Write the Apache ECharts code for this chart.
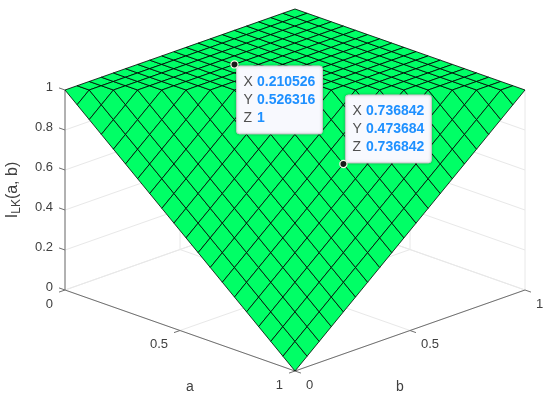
<!DOCTYPE html>
<html>
<head>
<meta charset="utf-8">
<style>
html, body { margin: 0; padding: 0; background: #fff; }
#main { width: 550px; height: 402px; }
</style>
<script src="https://cdn.jsdelivr.net/npm/echarts@6/dist/echarts.min.js"></script>
</head>
<body>
<div id="main"></div>
<script>
// grid of the surface
var aValues = [0, 0.0526, 0.1053, 0.1579, 0.2105, 0.2632, 0.3158, 0.3684, 0.4211, 0.4737, 0.5263, 0.5789, 0.6316, 0.6842, 0.7368, 0.7895, 0.8421, 0.8947, 0.9474, 1]
var bValues = [0, 0.0526, 0.1053, 0.1579, 0.2105, 0.2632, 0.3158, 0.3684, 0.4211, 0.4737, 0.5263, 0.5789, 0.6316, 0.6842, 0.7368, 0.7895, 0.8421, 0.8947, 0.9474, 1]
// one row per a value, one column per b value
var zValues = [
    [1, 1, 1, 1, 1, 1, 1, 1, 1, 1, 1, 1, 1, 1, 1, 1, 1, 1, 1, 1],
    [0.9474, 1, 1, 1, 1, 1, 1, 1, 1, 1, 1, 1, 1, 1, 1, 1, 1, 1, 1, 1],
    [0.8947, 0.9474, 1, 1, 1, 1, 1, 1, 1, 1, 1, 1, 1, 1, 1, 1, 1, 1, 1, 1],
    [0.8421, 0.8947, 0.9474, 1, 1, 1, 1, 1, 1, 1, 1, 1, 1, 1, 1, 1, 1, 1, 1, 1],
    [0.7895, 0.8421, 0.8947, 0.9474, 1, 1, 1, 1, 1, 1, 1, 1, 1, 1, 1, 1, 1, 1, 1, 1],
    [0.7368, 0.7895, 0.8421, 0.8947, 0.9474, 1, 1, 1, 1, 1, 1, 1, 1, 1, 1, 1, 1, 1, 1, 1],
    [0.6842, 0.7368, 0.7895, 0.8421, 0.8947, 0.9474, 1, 1, 1, 1, 1, 1, 1, 1, 1, 1, 1, 1, 1, 1],
    [0.6316, 0.6842, 0.7368, 0.7895, 0.8421, 0.8947, 0.9474, 1, 1, 1, 1, 1, 1, 1, 1, 1, 1, 1, 1, 1],
    [0.5789, 0.6316, 0.6842, 0.7368, 0.7895, 0.8421, 0.8947, 0.9474, 1, 1, 1, 1, 1, 1, 1, 1, 1, 1, 1, 1],
    [0.5263, 0.5789, 0.6316, 0.6842, 0.7368, 0.7895, 0.8421, 0.8947, 0.9474, 1, 1, 1, 1, 1, 1, 1, 1, 1, 1, 1],
    [0.4737, 0.5263, 0.5789, 0.6316, 0.6842, 0.7368, 0.7895, 0.8421, 0.8947, 0.9474, 1, 1, 1, 1, 1, 1, 1, 1, 1, 1],
    [0.4211, 0.4737, 0.5263, 0.5789, 0.6316, 0.6842, 0.7368, 0.7895, 0.8421, 0.8947, 0.9474, 1, 1, 1, 1, 1, 1, 1, 1, 1],
    [0.3684, 0.4211, 0.4737, 0.5263, 0.5789, 0.6316, 0.6842, 0.7368, 0.7895, 0.8421, 0.8947, 0.9474, 1, 1, 1, 1, 1, 1, 1, 1],
    [0.3158, 0.3684, 0.4211, 0.4737, 0.5263, 0.5789, 0.6316, 0.6842, 0.7368, 0.7895, 0.8421, 0.8947, 0.9474, 1, 1, 1, 1, 1, 1, 1],
    [0.2632, 0.3158, 0.3684, 0.4211, 0.4737, 0.5263, 0.5789, 0.6316, 0.6842, 0.7368, 0.7895, 0.8421, 0.8947, 0.9474, 1, 1, 1, 1, 1, 1],
    [0.2105, 0.2632, 0.3158, 0.3684, 0.4211, 0.4737, 0.5263, 0.5789, 0.6316, 0.6842, 0.7368, 0.7895, 0.8421, 0.8947, 0.9474, 1, 1, 1, 1, 1],
    [0.1579, 0.2105, 0.2632, 0.3158, 0.3684, 0.4211, 0.4737, 0.5263, 0.5789, 0.6316, 0.6842, 0.7368, 0.7895, 0.8421, 0.8947, 0.9474, 1, 1, 1, 1],
    [0.1053, 0.1579, 0.2105, 0.2632, 0.3158, 0.3684, 0.4211, 0.4737, 0.5263, 0.5789, 0.6316, 0.6842, 0.7368, 0.7895, 0.8421, 0.8947, 0.9474, 1, 1, 1],
    [0.0526, 0.1053, 0.1579, 0.2105, 0.2632, 0.3158, 0.3684, 0.4211, 0.4737, 0.5263, 0.5789, 0.6316, 0.6842, 0.7368, 0.7895, 0.8421, 0.8947, 0.9474, 1, 1],
    [0, 0.0526, 0.1053, 0.1579, 0.2105, 0.2632, 0.3158, 0.3684, 0.4211, 0.4737, 0.5263, 0.5789, 0.6316, 0.6842, 0.7368, 0.7895, 0.8421, 0.8947, 0.9474, 1]
]
var aTicks = [0, 0.5, 1]
var bTicks = [0, 0.5, 1]
var zTicks = [0, 0.2, 0.4, 0.6, 0.8, 1]
// data tips: a, b, z and the text they show
var tipPoints = [[0.210526, 0.526316, 1], [0.736842, 0.473684, 0.736842]]
var tipLabels = [['0.210526', '0.526316', '1'], ['0.736842', '0.473684', '0.736842']]

var tickLen = 0.026
var tilt = 0.405
var font = '"Liberation Sans", Arial, sans-serif'

// orthographic view: the two hidden axes carry the projected coordinates
function proj(a, b, z) {
    return [a + b, z + tilt * (b - a)]
}

var cells = []
for (var i = 0; i < aValues.length - 1; i++) {
    for (var j = 0; j < bValues.length - 1; j++) {
        cells.push([i, j])
    }
}

var gridLines = []
aTicks.forEach(function (t) {
    gridLines.push([t, 0, 0, t, 1, 0])
    gridLines.push([t, 1, 0, t, 1, 1])
})
bTicks.forEach(function (t) {
    gridLines.push([0, t, 0, 1, t, 0])
    gridLines.push([0, t, 0, 0, t, 1])
})
zTicks.forEach(function (t) {
    gridLines.push([0, 0, t, 0, 1, t])
    gridLines.push([0, 1, t, 1, 1, t])
})

var axisLines = [
    [0, 0, 0, 0, 0, 1],
    [0, 0, 0, 1, 0, 0],
    [1, 0, 0, 1, 1, 0]
]
aTicks.forEach(function (t) { axisLines.push([t, 0, 0, t, -tickLen, 0]) })
bTicks.forEach(function (t) { axisLines.push([1, t, 0, 1 + tickLen, t, 0]) })
zTicks.forEach(function (t) { axisLines.push([0, 0, t, -tickLen, 0, t]) })

function lineItem(color) {
    return function (params, api) {
        var p1 = api.coord(proj(api.value(0), api.value(1), api.value(2)))
        var p2 = api.coord(proj(api.value(3), api.value(4), api.value(5)))
        return {
            type: 'line',
            shape: { x1: p1[0], y1: p1[1], x2: p2[0], y2: p2[1] },
            style: { stroke: color, lineWidth: 1 }
        }
    }
}

function cellItem(params, api) {
    var i = api.value(0), j = api.value(1)
    var pts = [[i, j], [i + 1, j], [i + 1, j + 1], [i, j + 1]].map(function (c) {
        return api.coord(proj(aValues[c[0]], bValues[c[1]], zValues[c[0]][c[1]]))
    })
    return {
        type: 'polygon',
        shape: { points: pts },
        style: { fill: '#00ff66', stroke: '#000000', lineWidth: 0.8, lineJoin: 'round' }
    }
}

function textEl(x, y, text, align, extra) {
    var style = {
        x: x, y: y, text: text, align: align, verticalAlign: 'middle',
        font: '13px ' + font, fill: '#404040'
    }
    return { type: 'text', style: Object.assign(style, extra || {}) }
}

// tick labels and axis titles are hung off the projected axis ends
function labelsItem(params, api) {
    if (params.dataIndex > 0) return
    var els = []
    zTicks.forEach(function (t) {
        var p = api.coord(proj(0, 0, t))
        els.push(textEl(p[0] - 12, p[1] - 3, String(t), 'right'))
    })
    aTicks.forEach(function (t) {
        var p = api.coord(proj(t, 0, 0))
        els.push(textEl(p[0] - 12, p[1] + 14, String(t), 'right'))
    })
    bTicks.forEach(function (t) {
        var p = api.coord(proj(1, t, 0))
        els.push(textEl(p[0] + 11, p[1] + 14, String(t), 'left'))
    })
    var pa = api.coord(proj(0.5, 0, 0))
    var pb = api.coord(proj(1, 0.5, 0))
    els.push(textEl(pa[0] + 10, pa[1] + 57, 'a', 'center', { font: '14px ' + font }))
    els.push(textEl(pb[0] - 10, pb[1] + 57, 'b', 'center', { font: '14px ' + font }))
    var pz = api.coord(proj(0, 0, 0.5))
    els.push({
        type: 'text',
        x: pz[0] - 51,
        y: pz[1],
        rotation: Math.PI / 2,
        style: {
            text: '{n|I}{s|LK}{n|(a, b)}', align: 'center', verticalAlign: 'middle',
            fill: '#404040',
            rich: {
                n: { font: '16px ' + font, fill: '#404040', verticalAlign: 'top', lineHeight: 18 },
                s: { font: '12px ' + font, fill: '#404040', verticalAlign: 'bottom', lineHeight: 18, padding: [6, 0, 0, 0] }
            }
        }
    })
    return { type: 'group', children: els }
}

function tipItem(params, api) {
    var idx = params.dataIndex
    var p = api.coord(proj(api.value(0), api.value(1), api.value(2)))
    var x0 = p[0] + 2
    var y0 = idx === 0 ? p[1] + 1.5 : p[1] - 69
    var names = ['X', 'Y', 'Z']
    var els = [{
        type: 'rect',
        shape: { x: x0, y: y0, width: 86, height: 68, r: 3 },
        style: {
            fill: '#f8f9fe', stroke: '#c8c8c8', lineWidth: 1,
            shadowBlur: 3, shadowColor: 'rgba(0,0,0,0.25)'
        }
    }]
    names.forEach(function (n, k) {
        var y = y0 + 16 + k * 18.3
        els.push(textEl(x0 + 7, y, n, 'left', { font: '14px ' + font, fill: '#505050' }))
        els.push(textEl(x0 + 20.5, y, tipLabels[idx][k], 'left', { font: 'bold 14px ' + font, fill: '#1e90ff' }))
    })
    els.push({
        type: 'circle',
        shape: { cx: p[0], cy: p[1], r: 3.6 },
        style: { fill: '#1a1a1a', stroke: '#fbfbe8', lineWidth: 1.2 }
    })
    return { type: 'group', children: els }
}

var myChart = echarts.init(document.getElementById('main'), null, { renderer: 'canvas' })
var option = {
    animation: false,
    backgroundColor: '#ffffff',
    grid: { left: 65, right: 25, top: 9, bottom: 31 },
    xAxis: { type: 'value', min: 0, max: 2, show: false },
    yAxis: { type: 'value', min: -tilt, max: 1 + tilt, show: false },
    tooltip: { show: false },
    series: [
        { type: 'custom', silent: true, clip: false, z: 1, data: gridLines, renderItem: lineItem('#e8e8e8') },
        { type: 'custom', silent: true, clip: false, z: 2, data: axisLines, renderItem: lineItem('#707070') },
        { type: 'custom', silent: true, clip: false, z: 3, data: cells, renderItem: cellItem },
        { type: 'custom', silent: true, clip: false, z: 4, data: [[0]], renderItem: labelsItem },
        { type: 'custom', silent: true, clip: false, z: 5, data: tipPoints, renderItem: tipItem }
    ]
}
myChart.setOption(option)
</script>
</body>
</html>
